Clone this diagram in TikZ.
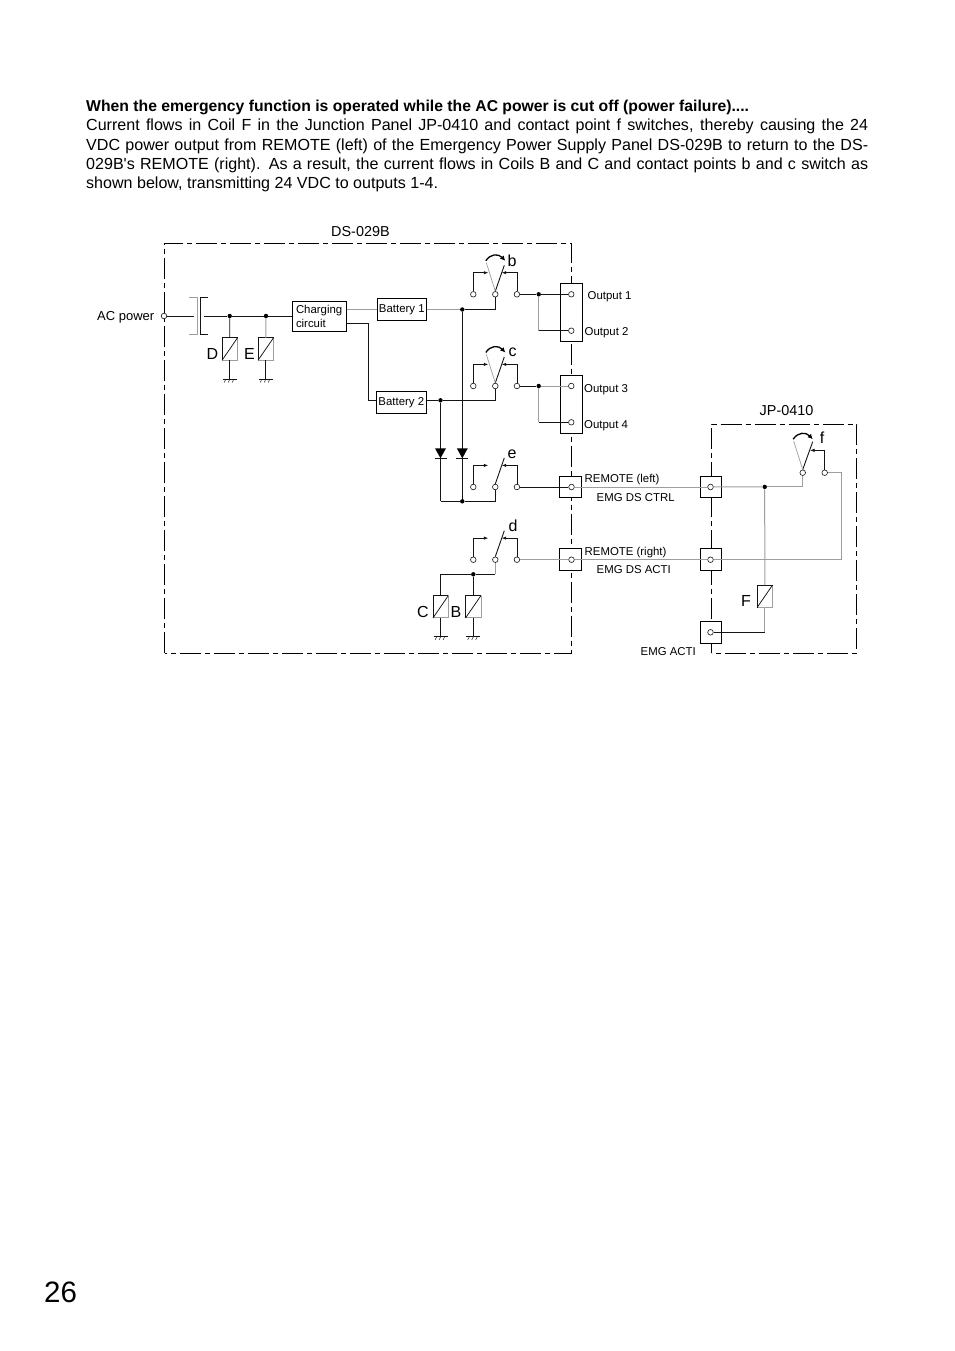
\documentclass[tikz,border=0pt]{standalone}
\usepackage{fontspec}
\setmainfont{Liberation Sans}
\newfontfamily\plainf{Liberation Sans}
\usetikzlibrary{arrows.meta,calc}
\definecolor{wgray}{gray}{0.62}
\definecolor{ink}{gray}{0.08}
\tikzset{
 x=1pt,y=-1pt,
 wire/.style={draw=ink,line width=0.75pt},
 gwire/.style={draw=wgray,line width=1pt},
 frameline/.style={draw=black,line width=0.9pt,dash pattern=on 21pt off 4pt on 5pt off 4pt},
 term/.style={circle,draw=ink,fill=white,line width=0.6pt,inner sep=0pt,minimum size=5.6pt},
 junction/.style={circle,fill=black,inner sep=0pt,minimum size=4.4pt},
 boxn/.style={draw=black,fill=white,line width=0.85pt,inner sep=0pt},
 coiln/.style={draw=none,inner sep=0pt,minimum width=15pt,minimum height=22pt},
 lab/.style={inner sep=0pt,anchor=west,yshift=-1.5pt,font=\fontsize{11.4}{13}\selectfont},
 midlab/.style={inner sep=0pt,anchor=west,font=\fontsize{14.4}{16}\selectfont},
 letter/.style={inner sep=0pt,font=\fontsize{16}{18}\selectfont},
 tip/.style={-{Latex[length=4.5pt,width=3.4pt]}},
}
\newcommand{\mycoil}[3]{%
 \node[coiln] (#1) at (#2,#3) {};
 \draw[gwire] (#1.north east) -- (#1.south east) -- (#1.south west);
 \draw[wire] (#1.south west) -- (#1.north west) -- (#1.north east);
 \draw[wire] (#1.south west) -- (#1.north east);
}
\newcommand{\myground}[1]{%
 \draw[wire,line width=0.6pt] ($(#1)+(-7,0)$) -- ($(#1)+(7,0)$);
 \foreach \gx in {-4,0,4} {\draw[wire,line width=0.5pt] ($(#1)+(\gx,0)$) -- ($(#1)+(\gx-1.6,3.2)$);}
}
\newcommand{\myswitch}[3]{% name, cx, cy : three terminals, blade, both feed wires
 \node[term] (#1L) at (#2-22,#3) {};
 \node[term] (#1C) at (#2,#3) {};
 \node[term] (#1R) at (#2+21.6,#3) {};
 \draw[wire,tip] (#1L.north) |- ($(#1C)+(-7,-21.6)$);
 \draw[wire,tip] (#1R.north) |- ($(#1C)+(6.4,-21.6)$);
 \draw[wire,line width=0.9pt] (#1C.north) -- ($(#1C)+(9,-29)$);
}
\newcommand{\myflip}[1]{% grey blade and curved motion arrow
 \draw[gwire,line width=0.7pt] (#1C.north) -- ($(#1C)+(-9,-31.6)$);
 \draw[draw=black,line width=1.3pt,-{Latex[length=5pt,width=5pt]}] ($(#1C)+(-9.5,-33.5)$) .. controls ($(#1C)+(-5,-40.5)$) and ($(#1C)+(3,-41)$) .. ($(#1C)+(10,-33.5)$);
}
\newcommand{\mydiode}[1]{%
 \fill[black] ($(#1)+(-5.5,-10)$) -- ($(#1)+(5.5,-10)$) -- (#1) -- cycle;
 \draw[wire] ($(#1)+(-6,0)$) -- ($(#1)+(6,0)$);
}
\begin{document}
\begin{tikzpicture}
\useasboundingbox (0,0) rectangle (954,1351);
\fill[white] (0,0) rectangle (954,1351);

% paragraph
\node[inner sep=0pt,anchor=north west,text width=782pt,align=justify,font=\fontsize{16.07}{19.3}\selectfont] (para) at (86,100) {%
{\fontsize{15.74}{19.3}\selectfont\textbf{When the emergency function is operated while the AC power is cut off (power failure)....}}\hfill\null\linebreak
Current flows in Coil F in the Junction Panel JP-0410 and contact point f switches, thereby causing the 24\linebreak
VDC power output from REMOTE (left) of the Emergency Power Supply Panel DS-029B to return to the DS-\linebreak
029B{\plainf '}s REMOTE (right). As a result, the current flows in Coils B and C and contact points b and c switch as\linebreak
shown below, transmitting 24 VDC to outputs 1-4.};
\node[inner sep=0pt,anchor=west,font=\fontsize{29.5}{32}\selectfont] (pageno) at (44,1292.5) {26};

% frames
\draw[frameline] (164.5,653.3) -- (164.5,243) -- (571.5,243) -- (571.5,653.3) -- cycle;
\draw[frameline] (711.7,653.3) -- (711.7,424.3) -- (856.7,424.3) -- (856.7,653.3) -- cycle;

% labels
\node[midlab] (dslab) at (331,232) {DS-029B};
\node[midlab] (jplab) at (759.5,411) {JP-0410};
\node[lab,font=\fontsize{13}{15}\selectfont] (aclab) at (97,315.5) {AC power};
\node[letter] (lD) at (212.5,354) {D};
\node[letter] (lE) at (249.5,354) {E};
\node[letter] (lC) at (423,612) {C};
\node[letter] (lB) at (456,612) {B};
\node[letter] (lF) at (746,600.5) {F};
\node[letter] (lb) at (512,261) {b};
\node[letter] (lc) at (512.5,352) {c};
\node[letter] (le) at (512,454) {e};
\node[letter] (ld) at (513,526) {d};
\node[letter] (lf) at (822,438) {f};

% boxes
\node[boxn,minimum width=54pt,minimum height=30pt,align=left,text width=46.6pt,font=\fontsize{11.4}{14}\selectfont] (chg) at (319.3,316.3) {Charging\\circuit};
\node[boxn,minimum width=49pt,minimum height=21.6pt,font=\fontsize{11.4}{13}\selectfont] (bat1) at (401.8,309.5) {\raisebox{-2pt}{Battery 1}};
\node[boxn,minimum width=50pt,minimum height=22pt,font=\fontsize{11.4}{13}\selectfont] (bat2) at (401.3,402.3) {\raisebox{-2pt}{Battery 2}};
\node[boxn,minimum width=22pt,minimum height=58pt] (obox1) at (571.3,312.3) {};
\node[boxn,minimum width=22pt,minimum height=58pt] (obox2) at (571.3,404.3) {};
\node[boxn,minimum width=22pt,minimum height=21.5pt] (rbox1) at (570.5,487) {};
\node[boxn,minimum width=22pt,minimum height=21.5pt] (rbox2) at (570.5,559.3) {};
\node[boxn,minimum width=21.5pt,minimum height=21.5pt] (jbox1) at (711,487) {};
\node[boxn,minimum width=21.5pt,minimum height=21.5pt] (jbox2) at (711,559.3) {};
\node[boxn,minimum width=21.5pt,minimum height=21.5pt] (jbox3) at (711,632.3) {};

% output and remote labels
\node[lab] (o1) at (587.5,295) {Output 1};
\node[lab] (o2) at (584.5,331) {Output 2};
\node[lab] (o3) at (584,388) {Output 3};
\node[lab] (o4) at (584,424) {Output 4};
\node[lab] (rl) at (584.5,478) {REMOTE (left)};
\node[lab] (rr) at (584.5,551) {REMOTE (right)};
\node[lab] (ec) at (596.5,496) {EMG DS CTRL};
\node[lab] (ea) at (596.5,568) {EMG DS ACTI};
\node[lab] (em) at (640.5,650) {EMG ACTI};

% terminals
\node[term] (ac) at (164,316) {};
\node[term] (t1) at (571.3,294.3) {};
\node[term] (t2) at (571.3,330.7) {};
\node[term] (t3) at (571.3,386) {};
\node[term] (t4) at (571.3,422.3) {};
\node[term] (tl) at (571.5,487) {};
\node[term] (tr) at (571.5,559.7) {};
\node[term] (jl) at (710.5,487) {};
\node[term] (jr) at (710.5,559.7) {};
\node[term] (je) at (710.5,632.3) {};

% switches
\myswitch{swb}{495.3}{294.3}
\myflip{swb}
\myswitch{swc}{495.3}{386}
\myflip{swc}
\myswitch{swe}{495.3}{487}
\myswitch{swd}{495.3}{559.7}
% switch f has no left contact
\node[term] (swfC) at (802.7,472.7) {};
\node[term] (swfR) at (824.7,472.7) {};
\draw[wire,tip] (swfR.north) |- ($(swfC)+(7.3,-22.4)$);
\draw[wire,line width=0.9pt] (swfC.north) -- ($(swfC)+(10,-31)$);
\myflip{swf}

% junctions
\node[junction] (j1) at (229.7,316) {};
\node[junction] (j2) at (266,316) {};
\node[junction] (jb1) at (462.3,309.5) {};
\node[junction] (jb2) at (440.5,400.3) {};
\node[junction] (jo1) at (538.7,294.3) {};
\node[junction] (jo2) at (538.7,386) {};
\node[junction] (jd) at (462.3,501.3) {};
\node[junction] (jc) at (473.3,574.3) {};
\node[junction] (jf) at (764.7,486.9) {};
\coordinate (dlb) at (440.5,501.3);
\coordinate (dlc) at (440.7,574.3);
\coordinate (dld1) at (440.5,458.3);
\coordinate (dld2) at (462.3,458.3);
\coordinate (corner) at (841.3,559.7);

% coils
\mycoil{cD}{229.8}{349}
\mycoil{cE}{265.8}{349}
\mycoil{cC}{440.7}{606.7}
\mycoil{cB}{473.3}{606.7}
\mycoil{cF}{764.8}{596.3}
\coordinate (gD) at (229.8,379.3);
\coordinate (gE) at (265.8,379.3);
\coordinate (gC) at (440.7,636.7);
\coordinate (gB) at (473.3,636.7);

% connectors: AC input and contactor
\draw[wire] (ac) -- (194,316);
\draw[gwire] (189.3,297.7) -- (197.3,297.7) -- (197.3,334.3) -- (189.3,334.3);
\draw[wire] (208,297.7) -- (200.3,297.7) -- (200.3,334.3) -- (208,334.3);
\draw[wire] (204,316) -- (j1);
\draw[wire] (j1) -- (j2);
\draw[wire] (j2) -- (chg.west |- j2);
\draw[wire] (j1) -- (cD.north);
\draw[gwire] (j2) -- (cE.north);
\draw[wire] (cD.south) -- (gD);
\draw[wire] (cE.south) -- (gE);
\myground{gD}
\myground{gE}
\myground{gC}
\myground{gB}

% charger to batteries
\draw[gwire] (chg.east |- jb1) -- (bat1.west |- jb1);
\draw[wire] (chg.east |- 0,323.3) -| (368.3,400.3) -- (bat2.west |- jb2);
\draw[gwire] (bat1.east |- jb1) -- (jb1);
\draw[wire] (jb1) -| (swbC.south);
\draw[wire] (bat2.east |- jb2) -- (jb2);
\draw[wire] (jb2) -| (swcC.south);

% outputs
\draw[wire] (swbR) -- (jo1);
\draw[wire] (jo1) -- (t1);
\draw[gwire] (jo1) -- (jo1 |- t2);
\draw[wire] (jo1 |- t2) -- (t2);
\draw[wire] (swcR) -- (jo2);
\draw[gwire] (jo2) -- (t3);
\draw[gwire] (jo2) -- (jo2 |- t4);
\draw[wire] (jo2 |- t4) -- (t4);

% diodes
\draw[wire] (jb1) -- (jd);
\draw[wire] (jb2) -- (dlb);
\draw[wire] (dlb) -- (jd);
\draw[wire] (jd) -| (sweC.south);
\mydiode{dld1}
\mydiode{dld2}

% remote lines
\draw[wire,line width=0.9pt] (sweR) -- (tl);
\draw[gwire] (tl) -- (jl);
\draw[gwire] (jl) -- (jf);
\draw[gwire] (jf) -| (swfC.south);
\draw[gwire] (swdR) -- (tr);
\draw[gwire] (tr) -- (jr);
\draw[gwire] (jr) -- (corner);
\draw[gwire] (corner) |- (swfR);

% coil F and emergency input
\draw[gwire] (jf) -- (cF.north);
\draw[gwire] (cF.south) -- (cF.south |- je);
\draw[wire] (cF.south |- je) -- (je);

% coils C and B
\draw[gwire] (swdC.south) -- (swdC |- jc);
\draw[wire] (swdC |- jc) -- (jc);
\draw[wire] (jc) -- (dlc);
\draw[wire] (dlc) -- (cC.north);
\draw[wire] (jc) -- (cB.north);
\draw[wire] (cC.south) -- (gC);
\draw[wire] (cB.south) -- (gB);
\end{tikzpicture}
\end{document}
